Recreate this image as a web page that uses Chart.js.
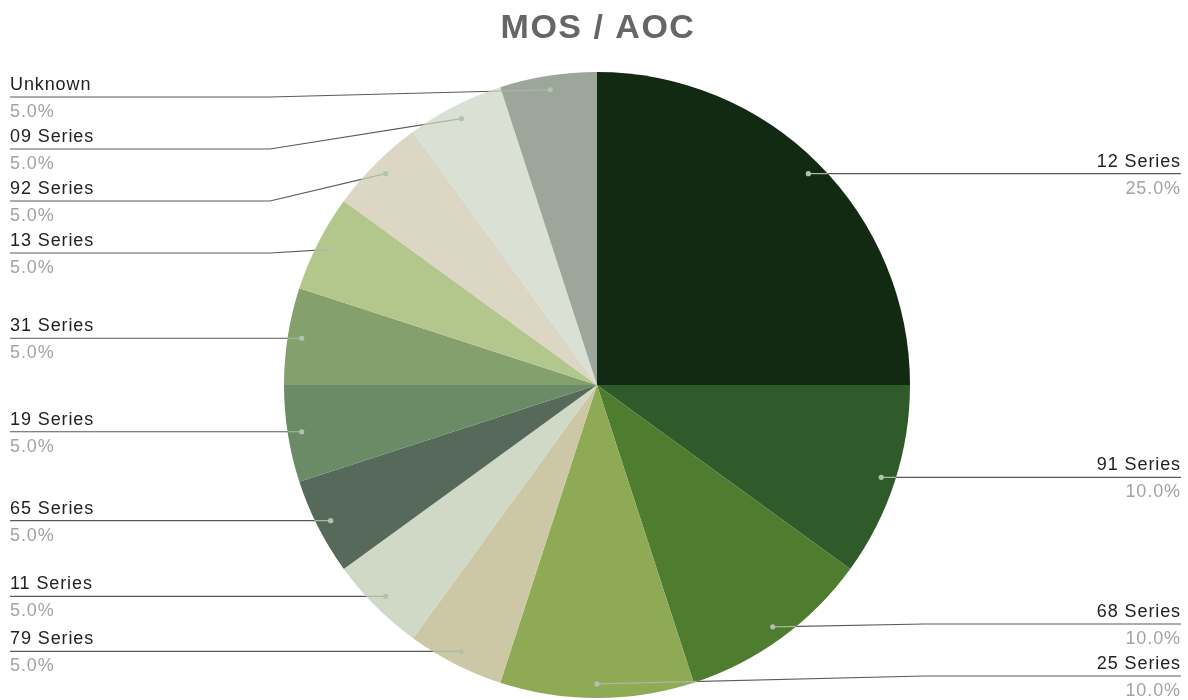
<!DOCTYPE html>
<html>
<head>
<meta charset="utf-8">
<script src="https://cdn.jsdelivr.net/npm/chart.js@4"></script>
<style>
  html, body { margin: 0; padding: 0; background: #fff; }
  #wrap { width: 1188px; height: 700px; position: relative; }
</style>
</head>
<body>
<div id="wrap"><canvas id="mosChart" width="1188" height="700"></canvas></div>
<script>
var chartTitle = 'MOS / AOC';
var seriesNames = ['12 Series', '91 Series', '68 Series', '25 Series', '79 Series', '11 Series',
  '65 Series', '19 Series', '31 Series', '13 Series', '92 Series', '09 Series', 'Unknown'];
var seriesShares = [25, 10, 10, 10, 5, 5, 5, 5, 5, 5, 5, 5, 5];
var sliceColors = ['#132a12', '#2f5b2b', '#4f7d2f', '#8eaa55', '#ccc8a6', '#d0d9c6',
  '#56695a', '#6b8b66', '#84a06c', '#b3c68c', '#dbd7c4', '#dae0d4', '#9ca69b'];

// title + leader-line labels drawn after the pie
var calloutPlugin = {
  id: 'callouts',
  afterDraw: function(chart) {
    var ctx = chart.ctx;
    var meta = chart.getDatasetMeta(0);
    var total = seriesShares.reduce(function(a, b) { return a + b; }, 0);

    ctx.save();
    ctx.font = 'bold 34px "Liberation Sans", Arial, sans-serif';
    ctx.letterSpacing = '1.5px';
    ctx.fillStyle = '#666666';
    ctx.textAlign = 'center';
    ctx.textBaseline = 'alphabetic';
    ctx.fillText(chartTitle, 598, 38);
    ctx.restore();

    var cx = 0, cy = 0, R = 0;
    var left = [], right = [];
    meta.data.forEach(function(arc, i) {
      var p = arc.getProps(['startAngle', 'endAngle', 'x', 'y', 'outerRadius'], true);
      cx = p.x; cy = p.y; R = p.outerRadius;
      var mid = (p.startAngle + p.endAngle) / 2;
      var item = {
        i: i,
        dx: p.x + Math.cos(mid) * R * 0.955,
        dy: p.y + Math.sin(mid) * R * 0.955
      };
      if (Math.cos(mid) > -1e-6) right.push(item); else left.push(item);
    });

    var gap = 52, minY = 97, maxY = 676;
    function place(list) {
      list.sort(function(a, b) { return a.dy - b.dy; });
      var prev = -Infinity;
      list.forEach(function(it) {
        it.ly = Math.max(Math.min(Math.max(it.dy, minY), maxY), prev + gap);
        prev = it.ly;
      });
      var next = Infinity;
      for (var k = list.length - 1; k >= 0; k--) {
        list[k].ly = Math.min(list[k].ly, next - gap, maxY);
        next = list[k].ly;
      }
    }
    place(left);
    place(right);

    function drawLeader(it, bendX, endX) {
      // part inside the pie in a pale tone
      ctx.save();
      ctx.beginPath();
      ctx.arc(cx, cy, R, 0, Math.PI * 2);
      ctx.clip();
      ctx.strokeStyle = '#a9b9a4';
      ctx.lineWidth = 1.2;
      ctx.beginPath();
      ctx.moveTo(it.dx, it.dy);
      ctx.lineTo(bendX, it.ly);
      ctx.stroke();
      ctx.restore();

      // part outside the pie in dark grey
      ctx.save();
      ctx.beginPath();
      ctx.rect(0, 0, chart.width, chart.height);
      ctx.arc(cx, cy, R, 0, Math.PI * 2, true);
      ctx.clip('evenodd');
      ctx.strokeStyle = '#5a5a5a';
      ctx.lineWidth = 1.2;
      ctx.beginPath();
      ctx.moveTo(it.dx, it.dy);
      ctx.lineTo(bendX, it.ly);
      ctx.lineTo(endX, it.ly);
      ctx.stroke();
      ctx.restore();

      ctx.fillStyle = '#b3c2ae';
      ctx.beginPath();
      ctx.arc(it.dx, it.dy, 2.6, 0, Math.PI * 2);
      ctx.fill();
    }

    function drawText(it, x, align) {
      var pct = (seriesShares[it.i] / total * 100).toFixed(1) + '%';
      ctx.save();
      ctx.textAlign = align;
      ctx.textBaseline = 'alphabetic';
      ctx.letterSpacing = '0.9px';
      ctx.font = '18px "Liberation Sans", Arial, sans-serif';
      ctx.fillStyle = '#222222';
      ctx.fillText(seriesNames[it.i], x, it.ly - 7);
      ctx.fillStyle = '#a3a3a3';
      ctx.fillText(pct, x, it.ly + 20);
      ctx.restore();
    }

    left.forEach(function(it) {
      drawLeader(it, cx - 327, 10);
      drawText(it, 10, 'left');
    });
    right.forEach(function(it) {
      drawLeader(it, cx + 327, 1181);
      drawText(it, 1181, 'right');
    });
  }
};

var ctx = document.getElementById('mosChart').getContext('2d');
new Chart(ctx, {
  type: 'pie',
  data: {
    labels: seriesNames,
    datasets: [{
      data: seriesShares,
      backgroundColor: sliceColors,
      borderWidth: 0
    }]
  },
  options: {
    responsive: false,
    animation: false,
    layout: { padding: { top: 72, bottom: 2, left: 6, right: 0 } },
    plugins: {
      legend: { display: false },
      tooltip: { enabled: false },
      title: { display: false }
    }
  },
  plugins: [calloutPlugin]
});
</script>
</body>
</html>
